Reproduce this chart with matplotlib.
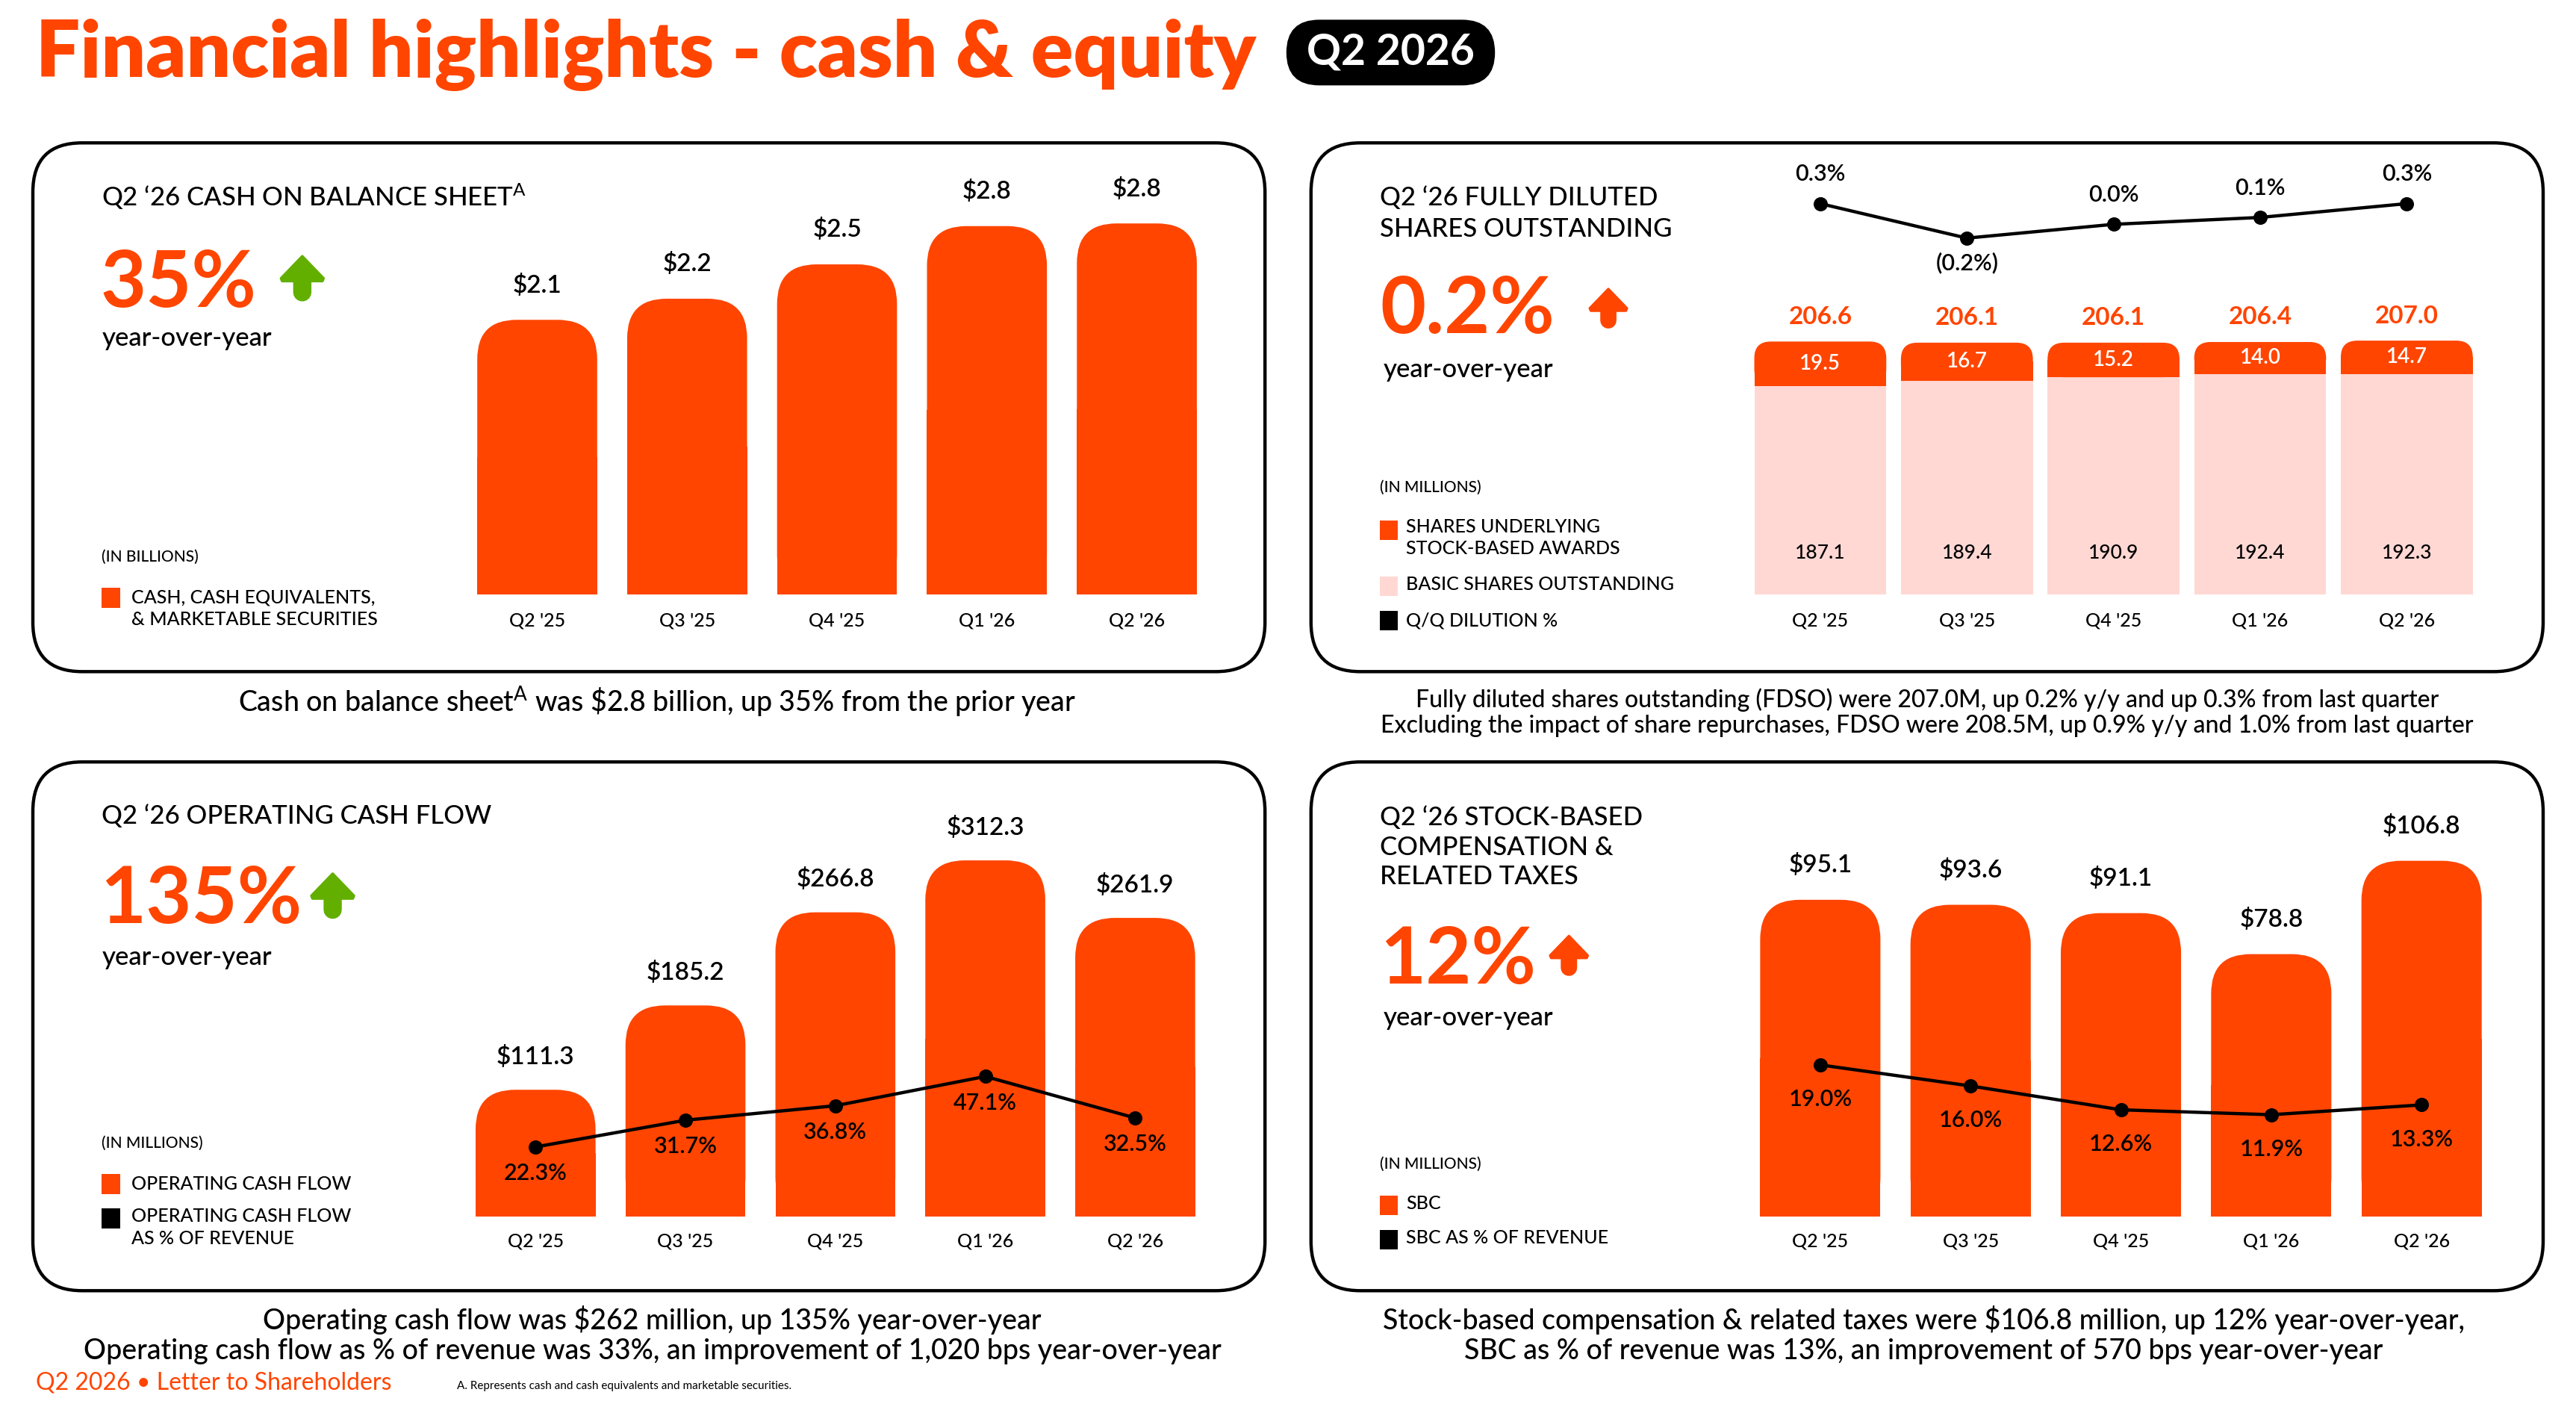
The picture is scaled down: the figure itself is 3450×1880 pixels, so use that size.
import matplotlib.pyplot as plt
from matplotlib.patches import FancyBboxPatch, Rectangle, Polygon
import numpy as np

plt.rcParams['font.family'] = ['Lato', 'DejaVu Sans']
plt.rcParams['mathtext.fontset'] = 'custom'
plt.rcParams['mathtext.rm'] = 'Lato'
plt.rcParams['mathtext.it'] = 'Lato:italic'
plt.rcParams['mathtext.bf'] = 'Lato:bold'

ORANGE = "#FF4500"
PINK = "#FFD8D4"
GREEN = "#62AF00"
INK = "#000000"

# ---- data ----
quarters = ["Q2 '25", "Q3 '25", "Q4 '25", "Q1 '26", "Q2 '26"]

cash_bn = [2.08, 2.24, 2.50, 2.79, 2.81]

basic_shares = [187.1, 189.4, 190.9, 192.4, 192.3]
sba_shares = [19.5, 16.7, 15.2, 14.0, 14.7]
fdso_total = [206.6, 206.1, 206.1, 206.4, 207.0]
qq_dilution = [0.3, -0.2, 0.0, 0.1, 0.3]

ocf = [111.3, 185.2, 266.8, 312.3, 261.9]
ocf_pct = [22.3, 31.7, 36.8, 47.1, 32.5]

sbc = [95.1, 93.6, 91.1, 78.8, 106.8]
sbc_pct = [19.0, 16.0, 12.6, 11.9, 13.3]

# layout works in reference pixels (1568 x 855 view of the slide)
W, H = 1568, 855
PT = 3450 / W * 72 / 100  # one reference pixel in points

fig = plt.figure(figsize=(34.5, 18.8), dpi=100)
bg = fig.add_axes([0, 0, 1, 1])
bg.set_xlim(0, W)
bg.set_ylim(H, 0)
bg.axis('off')


def txt(x, y, s, size, color=INK, weight='normal', ha='left', va='center', **kw):
    return bg.text(x, y, s, fontsize=size, color=color, fontweight=weight,
                   ha=ha, va=va, **kw)


def panel(x0, y0, x1, y1):
    bg.add_patch(FancyBboxPatch((x0, y0), x1 - x0, y1 - y0,
                                boxstyle="round,pad=0,rounding_size=30",
                                fc='white', ec=INK, lw=2 * PT))


def arrow(cx, top, color, s=1.0):
    pts = [(0, 0), (13, 13.5), (12.3, 15.2), (4.8, 15.2), (4.8, 22)]
    for a in np.linspace(0, np.pi, 10):
        pts.append((4.8 * np.cos(a), 22 + 4.8 * np.sin(a)))
    pts += [(-4.8, 15.2), (-12.3, 15.2), (-13, 13.5)]
    pts = [(cx + s * px, top + s * py) for px, py in pts]
    bg.add_patch(Polygon(pts, closed=True, fc=color, ec=color,
                         lw=1.5 * PT, joinstyle='round'))


def square(x, y, color):
    bg.add_patch(Rectangle((x, y), 11, 12, fc=color, ec='none'))


def chart_axes(x_first, spacing, y_top, y_base, ylo, px_per_unit):
    x0 = x_first - 0.6 * spacing
    x1 = x_first + 4.6 * spacing
    ax = fig.add_axes([x0 / W, 1 - y_base / H, (x1 - x0) / W, (y_base - y_top) / H])
    ax.set_xlim(-0.6, 4.6)
    ax.set_ylim(ylo, ylo + (y_base - y_top) / px_per_unit)
    ax.axis('off')
    return ax


def rounded_bars(ax, heights, bottoms, width, color, r_px):
    pos = ax.get_position()
    ax_w, ax_h = pos.width * W, pos.height * H
    xa, xb = ax.get_xlim()
    ya, yb = ax.get_ylim()
    xpp = (xb - xa) / ax_w
    ypp = (yb - ya) / ax_h
    for i, (h, b) in enumerate(zip(heights, bottoms)):
        ax.add_patch(FancyBboxPatch((i - width / 2, b), width, h,
                                    boxstyle=f"round,pad=0,rounding_size={r_px * xpp}",
                                    mutation_aspect=ypp / xpp, fc=color, ec='none'))
        ax.add_patch(Rectangle((i - width / 2, b), width, h * 0.5, fc=color, ec='none'))


def lab(ax, x, y, s, dy_px, size, color=INK, weight='semibold'):
    ax.annotate(s, (x, y), xytext=(0, dy_px * PT), textcoords='offset points',
                ha='center', va='center', fontsize=size, color=color,
                fontweight=weight, annotation_clip=False)


def ticks(ax, dy_px):
    ylo = ax.get_ylim()[0]
    for i, q in enumerate(quarters):
        lab(ax, i, ylo, q, dy_px, 18, weight='medium')


def pct_line(ax, vals):
    ax.plot(range(len(vals)), vals, color=INK, lw=2 * PT, marker='o',
            markersize=8 * PT, solid_capstyle='round', zorder=5)


# ---- header ----
txt(22, 47, "Financial highlights - cash & equity", 75.5, ORANGE, 'heavy', va='baseline')
bg.add_patch(FancyBboxPatch((783, 12), 127, 40, boxstyle="round,pad=0,rounding_size=20",
                            fc=INK, ec='none'))
txt(846.5, 32, "Q2 2026", 41, 'white', 'bold', ha='center')

panel(20, 87, 770, 409)
panel(798, 87, 1548, 409)
panel(20, 464, 770, 786)
panel(798, 464, 1548, 786)

# ---- panel 1: cash on balance sheet ----
txt(62, 120, "Q2 \u201826 CASH ON BALANCE SHEET$^{\\mathrm{A}}$", 25, weight='medium')
txt(61, 187, "35%", 76, ORANGE, 'bold', va='baseline')
arrow(184, 156, GREEN)
txt(62, 206, "year-over-year", 25, weight='medium')
txt(62, 339, "(IN BILLIONS)", 15, weight='medium')
square(62, 358, ORANGE)
txt(80, 370.5, "CASH, CASH EQUIVALENTS,\n& MARKETABLE SECURITIES", 18, weight='medium',
    linespacing=1.35)

ax1 = chart_axes(327, 91.25, 100, 362, 0, 80.4)
rounded_bars(ax1, cash_bn, [0] * 5, 0.8, ORANGE, 24)
for i, v in enumerate(cash_bn):
    lab(ax1, i, v, f"${v:.1f}", 21, 24)
ticks(ax1, -16)

txt(400, 427, "Cash on balance sheet$^{\\mathrm{A}}$ was \\$2.8 billion, up 35% from the prior year",
    27, weight='medium', ha='center')

# ---- panel 2: fully diluted shares ----
txt(840, 130, "Q2 \u201826 FULLY DILUTED\nSHARES OUTSTANDING", 25, weight='medium',
    linespacing=1.4)
txt(840, 203, "0.2%", 76, ORANGE, 'bold', va='baseline')
arrow(979, 176, ORANGE, 0.87)
txt(842, 225, "year-over-year", 25, weight='medium')
txt(840, 297, "(IN MILLIONS)", 15, weight='medium')
square(840, 317, ORANGE)
txt(856, 327.5, "SHARES UNDERLYING\nSTOCK-BASED AWARDS", 18, weight='medium', linespacing=1.35)
square(840, 351, PINK)
txt(856, 356, "BASIC SHARES OUTSTANDING", 18, weight='medium')
square(840, 372, INK)
txt(856, 378, "Q/Q DILUTION %", 18, weight='medium')

ax2 = chart_axes(1108, 89.25, 190, 362, 95.4, 1.385)
ax2.bar(range(5), basic_shares, width=0.9, color=PINK, linewidth=0)
rounded_bars(ax2, sba_shares, basic_shares, 0.9, ORANGE, 10)
for i in range(5):
    lab(ax2, i, fdso_total[i], f"{fdso_total[i]:.1f}", 15, 24, ORANGE, 'bold')
    lab(ax2, i, basic_shares[i] + sba_shares[i] / 2, f"{sba_shares[i]:.1f}", 0, 20,
        'white', 'semibold')
    lab(ax2, i, ax2.get_ylim()[0], f"{basic_shares[i]:.1f}", 25, 19, weight='medium')
ticks(ax2, -16)

ax2l = chart_axes(1108, 89.25, 95, 165, -0.676, 42)
pct_line(ax2l, qq_dilution)
for i, v in enumerate(qq_dilution):
    if v < 0:
        lab(ax2l, i, v, f"({abs(v):.1f}%)", -15, 22)
    else:
        lab(ax2l, i, v, f"{v:.1f}%", 18, 22)

txt(1173, 426, "Fully diluted shares outstanding (FDSO) were 207.0M, up 0.2% y/y and up 0.3% from last quarter",
    23, weight='medium', ha='center')
txt(1173, 442, "Excluding the impact of share repurchases, FDSO were 208.5M, up 0.9% y/y and 1.0% from last quarter",
    23, weight='medium', ha='center')

# ---- panel 3: operating cash flow ----
txt(62, 497, "Q2 \u201826 OPERATING CASH FLOW", 25, weight='medium')
txt(61, 562, "135%", 76, ORANGE, 'bold', va='baseline')
arrow(202.5, 532, GREEN)
txt(62, 583, "year-over-year", 25, weight='medium')
txt(62, 696, "(IN MILLIONS)", 15, weight='medium')
square(62, 715, ORANGE)
txt(80, 721, "OPERATING CASH FLOW", 18, weight='medium')
square(62, 736, INK)
txt(80, 747.5, "OPERATING CASH FLOW\nAS % OF REVENUE", 18, weight='medium', linespacing=1.35)

ax3 = chart_axes(326, 91.25, 480, 741, 0, 0.695)
rounded_bars(ax3, ocf, [0] * 5, 0.8, ORANGE, 24)
for i, v in enumerate(ocf):
    lab(ax3, i, v, f"${v:.1f}", 20, 24)
ticks(ax3, -15)

ax3l = chart_axes(326, 91.25, 480, 741, -2.3, 1.73)
pct_line(ax3l, ocf_pct)
for i, v in enumerate(ocf_pct):
    lab(ax3l, i, v, f"{v:.1f}%", -16, 22)

txt(397, 804, "Operating cash flow was $262 million, up 135% year-over-year",
    27, weight='medium', ha='center')
txt(397, 823, "Operating cash flow as % of revenue was 33%, an improvement of 1,020 bps year-over-year",
    27, weight='medium', ha='center')

# ---- panel 4: stock-based compensation ----
txt(840, 516, "Q2 \u201826 STOCK-BASED\nCOMPENSATION &\nRELATED TAXES", 25, weight='medium',
    linespacing=1.3)
txt(840, 599, "12%", 76, ORANGE, 'bold', va='baseline')
arrow(955, 570, ORANGE, 0.88)
txt(842, 620, "year-over-year", 25, weight='medium')
txt(840, 709, "(IN MILLIONS)", 15, weight='medium')
square(840, 728, ORANGE)
txt(856, 733, "SBC", 18, weight='medium')
square(840, 749, INK)
txt(856, 754, "SBC AS % OF REVENUE", 18, weight='medium')

ax4 = chart_axes(1108, 91.5, 480, 741, 0, 2.03)
rounded_bars(ax4, sbc, [0] * 5, 0.8, ORANGE, 24)
for i, v in enumerate(sbc):
    lab(ax4, i, v, f"${v:.1f}", 21, 24)
ticks(ax4, -15)

ax4l = chart_axes(1108, 91.5, 480, 741, -2.66, 4.27)
pct_line(ax4l, sbc_pct)
for i, v in enumerate(sbc_pct):
    lab(ax4l, i, v, f"{v:.1f}%", -21, 22)

txt(1171, 804, "Stock-based compensation & related taxes were $106.8 million, up 12% year-over-year,",
    27, weight='medium', ha='center')
txt(1171, 823, "SBC as % of revenue was 13%, an improvement of 570 bps year-over-year",
    27, weight='medium', ha='center')

# ---- footer ----
txt(22, 842, "Q2 2026 \u2022 Letter to Shareholders", 23, ORANGE)
txt(278, 844, "A. Represents cash and cash equivalents and marketable securities.", 11)

fig.savefig("out.png", dpi=100)
